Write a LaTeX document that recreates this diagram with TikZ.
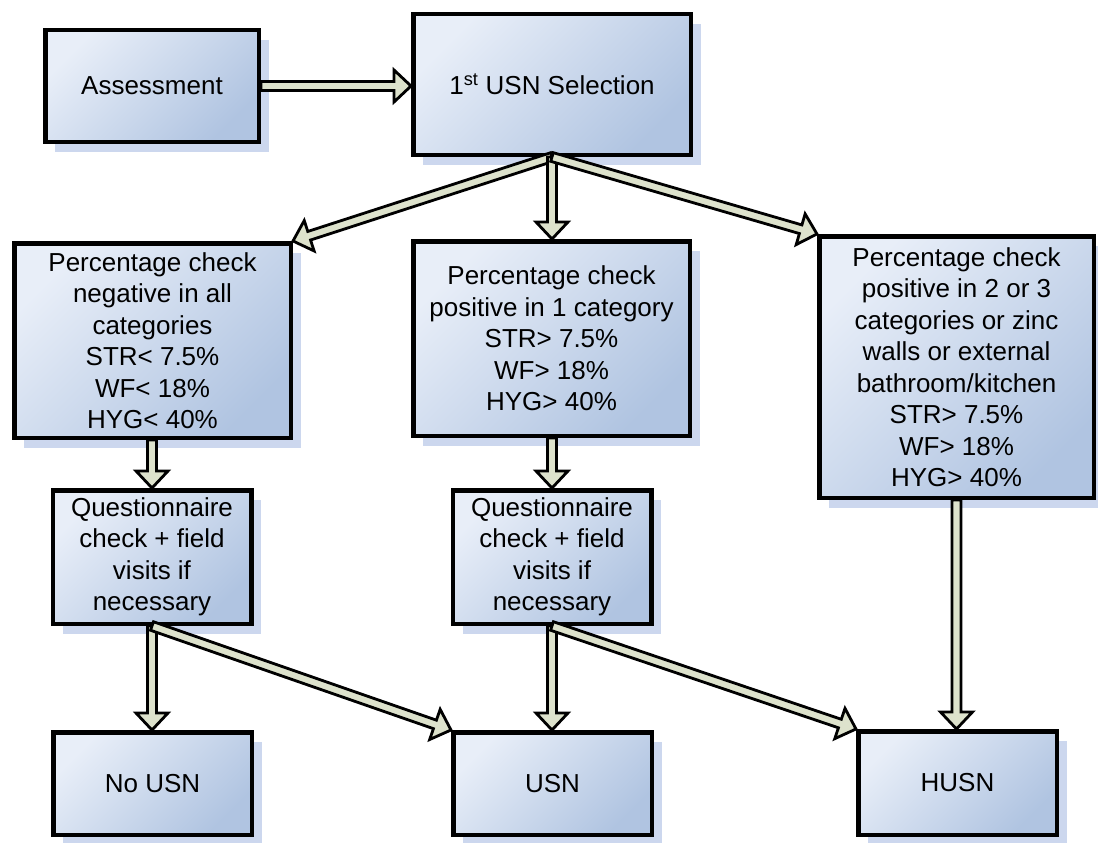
\documentclass[tikz,border=0pt]{standalone}
\usepackage{fontspec}
\setmainfont{Liberation Sans}
\usetikzlibrary{calc,shadows}

\definecolor{boxlight}{RGB}{232,238,248}
\definecolor{boxdark}{RGB}{176,196,225}
\definecolor{arrfill}{RGB}{221,226,204}
\definecolor{shadowblue}{RGB}{204,215,238}

\newcommand{\fatarrow}[2]{%
  \path let \p1=(#1), \p2=(#2),
    \n1={atan2(\y2-\y1,\x2-\x1)},
    \n2={veclen(\x2-\x1,\y2-\y1)} in
    [fat, shift={(\p1)}, rotate=\n1]
    (0pt,4.5pt) -- (\n2-17pt,4.5pt) -- (\n2-17pt,16pt) -- (\n2+0pt,0pt)
    -- (\n2-17pt,-16pt) -- (\n2-17pt,-4.5pt) -- (0pt,-4.5pt) -- cycle;%
}

\tikzset{
  box/.style={draw=black, line width=4.5pt, rectangle, inner sep=0pt,
    align=center, top color=boxlight, bottom color=boxdark, shading angle=45,
    font=\fontsize{26}{31.5}\selectfont,
    drop shadow={shadow xshift=10pt, shadow yshift=-10pt, fill=shadowblue, opacity=1}},
  fat/.style={draw=black, line width=2.8pt, fill=arrfill, line join=miter},
}

\begin{document}
\begin{tikzpicture}[x=1pt,y=-1pt]
\useasboundingbox (0,0) rectangle (1098,843);

\node[box, minimum width=213.5pt, minimum height=111.5pt] (ass) at (152,86) {Assessment};
\node[box, minimum width=277.5pt, minimum height=140.5pt] (usn1) at (552,84.5) {1\textsuperscript{st} USN Selection};

\node[box, minimum width=276.5pt, minimum height=194.5pt] (pl) at (152.5,340.5)
  {Percentage check\\negative in all\\categories\\STR< 7.5\%\\WF< 18\%\\HYG< 40\%};
\node[box, minimum width=276.5pt, minimum height=194.5pt] (pm) at (551.5,338.5)
  {Percentage check\\positive in 1 category\\STR> 7.5\%\\WF> 18\%\\HYG> 40\%};
\node[box, minimum width=274.5pt, minimum height=261.5pt] (pr) at (956.5,367)
  {Percentage check\\positive in 2 or 3\\categories or zinc\\walls or external\\bathroom/kitchen\\STR> 7.5\%\\WF> 18\%\\HYG> 40\%};

\node[box, minimum width=198.5pt, minimum height=133.5pt] (ql) at (152,557)
  {Questionnaire\\check + field\\visits if\\necessary};
\node[box, minimum width=198.5pt, minimum height=133.5pt] (qm) at (552,557)
  {Questionnaire\\check + field\\visits if\\necessary};

\node[box, minimum width=198.5pt, minimum height=102.5pt] (nousn) at (152.5,783.5) {No USN};
\node[box, minimum width=198.5pt, minimum height=102.5pt] (usn) at (552.5,783.5) {USN};
\node[box, minimum width=198.5pt, minimum height=103.5pt] (husn) at (957.5,783) {HUSN};

\fatarrow{ass.east}{ass.east -| usn1.west}
\fatarrow{usn1.south}{pl.north east}
\fatarrow{usn1.south}{usn1.south |- pm.north}
\fatarrow{usn1.south}{pr.north west}
\fatarrow{ql.north |- pl.south}{ql.north}
\fatarrow{qm.north |- pm.south}{qm.north}
\fatarrow{ql.south}{ql.south |- nousn.north}
\fatarrow{ql.south}{usn.north west}
\fatarrow{qm.south}{qm.south |- usn.north}
\fatarrow{qm.south}{husn.north west}
\fatarrow{pr.south}{pr.south |- husn.north}
\end{tikzpicture}
\end{document}
